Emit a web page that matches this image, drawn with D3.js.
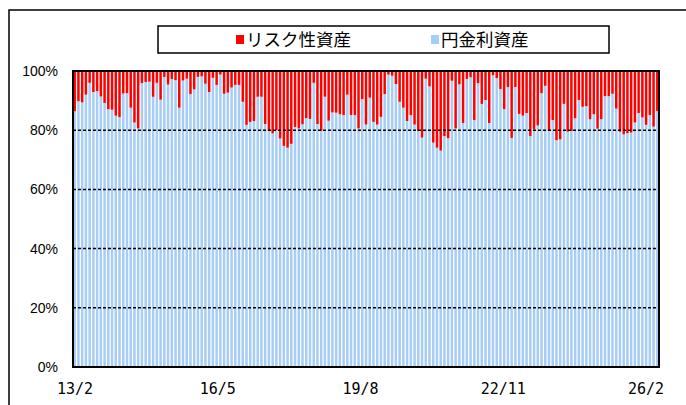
<!DOCTYPE html>
<html><head><meta charset="utf-8">
<script src="https://cdn.jsdelivr.net/npm/d3@7"></script>
<style>body{margin:0;background:#fff}svg{display:block}</style>
</head><body><svg id="c" width="686" height="405"></svg>
<script>
// ---- data ----
const startYear = 2013, startMonth = 2, monthCount = 157;
// 円金利資産 share (%) per month; リスク性資産 = 100 - value
const yenShare = [
86.4,89.8,89.4,92,96,92.9,93.2,91.4,89.2,87.1,86.9,84.9,84.4,92.4,92.5,87.6,82.6,80.6,95.9,96.3,
96.4,91.3,96,90.3,98,95.4,97.3,96.9,87.6,96.8,97.4,92.2,93.8,98,98.2,95.7,
92.9,97.7,95.3,
98.8,92.3,92.7,94.4,95.3,95.3,89.6,81.8,82.8,83.1,91.3,91.3,82.1,79.7,78.9,80,77.2,74.7,74.1,75.4,
81.1,80.6,82,84.1,83.8,96,82.1,79.8,91.3,83.2,86,85.9,85.4,85.1,92,85.1,85.1,80.6,90.5,81.9,91,
82.8,81.9,84.5,92.2,98.8,98.4,95.6,89.6,87.6,83.1,85.1,81.9,79.7,77.5,97.4,94.8,75.8,74.1,73.1,
78,77.3,96.7,80.6,95.5,82.4,97.3,97.9,83.4,95.9,88.9,90.2,82.4,98.6,97.6,93.9,87.1,94.6,
77.4,94.6,85.5,84.9,85.8,78,80.3,81.6,92.5,95,79.8,83.4,76.6,76.9,88.9,79.5,79.7,84,90.2,87.9,
88.1,83.7,85.4,80.5,83.7,91.5,91.5,92.3,87.3,79.5,78.6,79,79.2,82.6,85.8,84.3,81.8,85.1,81.2,86.5
];
const tickLabels = ["13/2","16/5","19/8","22/11","26/2"];
const yTicks = [0,20,40,60,80,100];
const seriesNames = ["リスク性資産","円金利資産"];
const seriesColors = ["#FF0000","#A6CDF5"];

const categories = d3.range(monthCount).map(i => {
  const m = startMonth - 1 + i;
  return String((startYear + Math.floor(m/12)) % 100).padStart(2,"0") + "/" + (m % 12 + 1);
});
const rows = categories.map((c,i) => ({cat:c, yen:yenShare[i], risk:100 - yenShare[i]}));

// ---- layout ----
const svg = d3.select("#c");
const L = 73, R = 659, T = 71, B = 367;

// outer frame
svg.append("rect").attr("x",9).attr("y",10).attr("width",700).attr("height",420)
  .attr("fill","#fff").attr("stroke","#000").attr("stroke-width",1.5);

const x = d3.scaleBand().domain(categories).range([L,R]).paddingInner(0.33).paddingOuter(0.12);
const y = d3.scaleLinear().domain([0,100]).range([B,T]);

const stack = d3.stack().keys(["yen","risk"])(rows);
const colorOf = {yen:seriesColors[1], risk:seriesColors[0]};

svg.append("g").selectAll("g").data(stack).join("g")
  .attr("fill", d => colorOf[d.key])
  .selectAll("rect").data(d => d).join("rect")
  .attr("x", d => x(d.data.cat))
  .attr("width", x.bandwidth())
  .attr("y", d => y(d[1]))
  .attr("height", d => y(d[0]) - y(d[1]));

// gridlines
svg.append("g").selectAll("line").data(yTicks.filter(v => v > 0 && v < 100)).join("line")
  .attr("x1",L).attr("x2",R).attr("y1",d=>y(d)).attr("y2",d=>y(d))
  .attr("stroke","#000").attr("stroke-width",1.5).attr("stroke-dasharray","3,2");

// plot border
svg.append("rect").attr("x",L).attr("y",T).attr("width",R-L).attr("height",B-T)
  .attr("fill","none").attr("stroke","#000").attr("stroke-width",2);

// y labels
svg.append("g").selectAll("text").data(yTicks).join("text")
  .attr("x",58).attr("y",d=>y(d)).attr("dy","0.36em")
  .attr("text-anchor","end")
  .attr("font-family","'Liberation Sans', Arial, sans-serif").attr("font-size",14)
  .text(d => d + "%");

// x labels
const labelIdx = tickLabels.map(t => categories.indexOf(t));
const xl = d3.scaleLinear().domain([0, monthCount-1]).range([75, 646]);
svg.append("g").selectAll("text").data(tickLabels).join("text")
  .attr("x",(d,i)=>xl(labelIdx[i])).attr("y",394)
  .attr("text-anchor","middle")
  .attr("font-family","'DejaVu Sans Mono', monospace").attr("font-size",15)
  .text(d=>d);

// legend
const lg = svg.append("g");
lg.append("rect").attr("x",158).attr("y",26).attr("width",451).attr("height",27)
  .attr("fill","#fff").attr("stroke","#000").attr("stroke-width",1.5);
const items = [{name:seriesNames[0], color:seriesColors[0], x:236},{name:seriesNames[1], color:seriesColors[1], x:431}];
items.forEach(it => {
  lg.append("rect").attr("x",it.x).attr("y",35).attr("width",8).attr("height",9).attr("fill",it.color);
  lg.append("text").attr("x",it.x+10).attr("y",40).attr("dy","0.36em")
    .attr("font-family","'Noto Sans CJK JP', sans-serif").attr("font-size",17.5)
    .text(it.name);
});
</script></body></html>
